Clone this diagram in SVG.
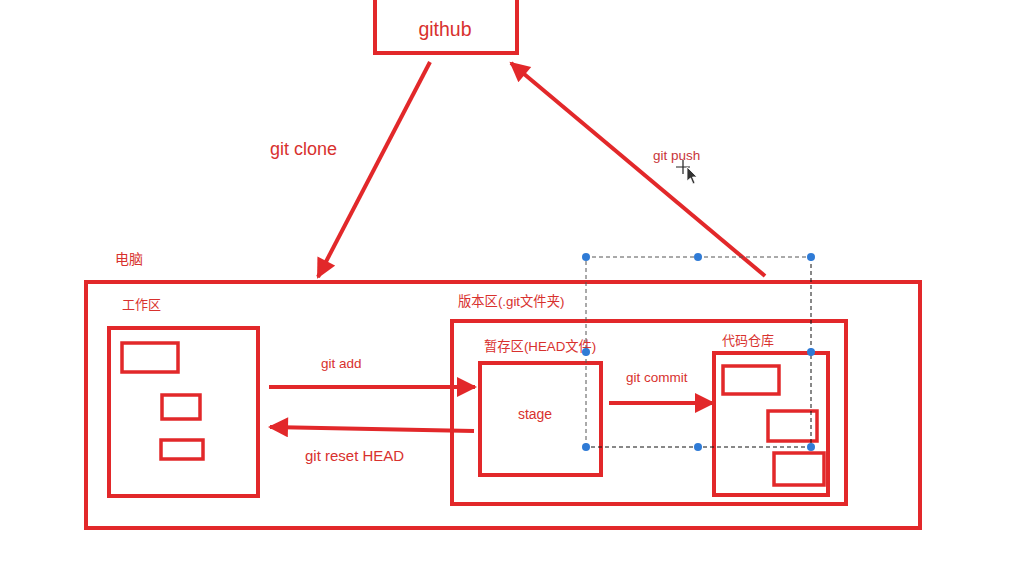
<svg xmlns="http://www.w3.org/2000/svg" width="1027" height="570" viewBox="0 0 1027 570">
<defs>
<style>
.box{fill:none;stroke:#e2282a;stroke-width:4}
.ibox{fill:none;stroke:#e2282a;stroke-width:3.5}
.conn{fill:none;stroke:#e2282a;stroke-width:4}
.lbl{font-family:"Liberation Sans","Noto Sans CJK SC",sans-serif;fill:#d8312e}
.cjk{font-family:"Liberation Sans","Noto Sans CJK SC",sans-serif;fill:#d8312e}
.sel{fill:none;stroke:#555;stroke-width:1;stroke-dasharray:4 3}
.handle{fill:#2f7bd6}
</style>
<marker id="ah" viewBox="0 0 10 10" refX="9" refY="5" markerWidth="5.5" markerHeight="5" markerUnits="strokeWidth" orient="auto">
<path d="M0,0 L10,5 L0,10 z" fill="#e2282a"/>
</marker>
</defs>
<rect width="1027" height="570" fill="#fff"/>

<g id="github">
<rect class="box" x="375" y="-6" width="142" height="59"/>
<text class="lbl" x="445" y="36" font-size="19.5" text-anchor="middle">github</text>
</g>

<g id="computer">
<text class="cjk" x="115" y="264" font-size="14">电脑</text>
<rect class="box" x="86" y="282" width="834" height="246"/>
</g>

<g id="workspace">
<text class="cjk" x="122" y="309" font-size="13">工作区</text>
<rect class="box" x="109" y="328" width="149" height="168"/>
<rect class="ibox" x="122" y="343" width="56" height="29"/>
<rect class="ibox" x="162" y="395" width="38" height="24"/>
<rect class="ibox" x="161" y="440" width="42" height="19"/>
</g>

<g id="version">
<text class="cjk" x="458" y="306" font-size="13.3">版本区(.git文件夹)</text>
<rect class="box" x="452" y="321" width="394" height="183"/>
</g>

<g id="stage">
<text class="cjk" x="484" y="351" font-size="13.3">暂存区(HEAD文件)</text>
<rect class="box" x="480" y="363" width="121" height="112"/>
<text class="lbl" x="535" y="419" font-size="14" text-anchor="middle">stage</text>
</g>

<g id="repo">
<text class="cjk" x="722" y="345" font-size="13">代码仓库</text>
<rect class="box" x="714" y="353" width="114" height="142"/>
<rect class="ibox" x="723" y="366" width="56" height="28"/>
<rect class="ibox" x="768" y="411" width="49" height="30"/>
<rect class="ibox" x="774" y="453" width="50" height="32"/>
</g>

<g id="connectors">
<line class="conn" x1="430" y1="62" x2="318" y2="277" marker-end="url(#ah)"/>
<line class="conn" x1="765" y1="276" x2="511" y2="63" marker-end="url(#ah)"/>
<line class="conn" x1="269" y1="387" x2="475" y2="387" marker-end="url(#ah)"/>
<line class="conn" x1="474" y1="431" x2="270" y2="427" marker-end="url(#ah)"/>
<line class="conn" x1="609" y1="403" x2="713" y2="403" marker-end="url(#ah)"/>
<text class="lbl" x="270" y="155" font-size="18">git clone</text>
<text class="lbl" x="653" y="160" font-size="13.5" style="fill:#c8353a">git push</text>
<text class="lbl" x="321" y="368" font-size="13.5">git add</text>
<text class="lbl" x="305" y="461" font-size="15">git reset HEAD</text>
<text class="lbl" x="626" y="382" font-size="13.5">git commit</text>
</g>

<g id="selection">
<path class="sel" d="M586,447 L586,257 L811,257"/>
<path class="sel" d="M811,257 L811,447 L586,447" style="stroke:#111"/>
<circle class="handle" cx="586" cy="257" r="4"/>
<circle class="handle" cx="698" cy="257" r="4"/>
<circle class="handle" cx="811" cy="257" r="4"/>
<circle class="handle" cx="586" cy="352" r="4"/>
<circle class="handle" cx="811" cy="352" r="4"/>
<circle class="handle" cx="586" cy="447" r="4"/>
<circle class="handle" cx="698" cy="447" r="4"/>
<circle class="handle" cx="811" cy="447" r="4"/>
</g>

<g id="cursor">
<path d="M676,167 L690,167 M683,160 L683,174" stroke="#222" stroke-width="1.2"/>
<path d="M687,167 L687,181 L690.5,178 L693,184 L695,183 L692.5,177 L697,177 z" fill="#333" stroke="#fff" stroke-width="0.8"/>
</g>
</svg>
